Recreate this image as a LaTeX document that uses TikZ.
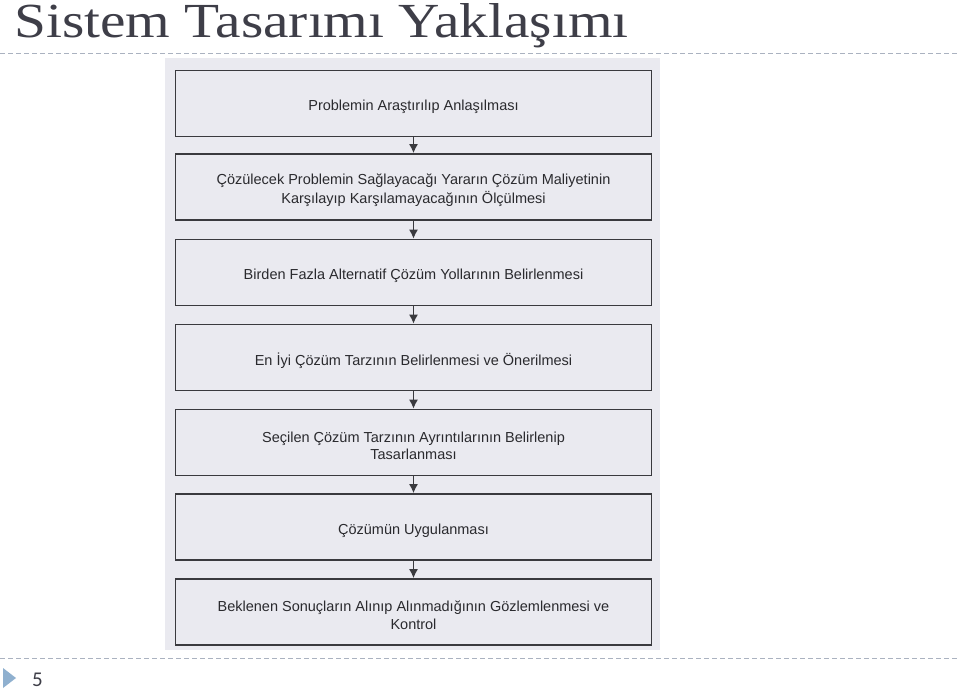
\documentclass[tikz,border=0pt]{standalone}
\usepackage{graphicx}
\usepackage{fontspec}
\setmainfont{Liberation Serif}
\newfontfamily\boxfont{Liberation Sans}
\newfontfamily\numfont{Carlito}
\usetikzlibrary{arrows.meta}
\definecolor{scanbg}{RGB}{234,234,240}
\definecolor{boxline}{RGB}{58,58,62}
\definecolor{boxtext}{RGB}{42,42,46}
\definecolor{titlecol}{RGB}{62,62,72}
\definecolor{dashcol}{RGB}{170,178,192}
\definecolor{markcol}{RGB}{143,176,207}
\newcommand{\lowertxt}[1]{\raisebox{-3.5pt}[\height][\depth]{#1}}
\tikzset{
  stepbox/.style={draw=boxline, line width=1.7pt, fill=scanbg, minimum width=476pt, minimum height=66pt,
    align=center, inner sep=0pt, font=\boxfont\fontsize{14.5}{19.5}\selectfont, text=boxtext},
  flowarrow/.style={draw=boxline, line width=1.4pt, -{Latex[length=9pt,width=9pt]}},
  sepline/.style={draw=dashcol, line width=1pt, dash pattern=on 5pt off 3pt}
}
\begin{document}
\begin{tikzpicture}[x=1pt,y=-1pt]
\useasboundingbox (0,0) rectangle (959,691);
\fill[white] (0,0) rectangle (959,691);
% title
\node[anchor=base west, inner sep=0pt, text=titlecol, font=\fontsize{49}{56}\selectfont] (title) at (14,37) {\scalebox{1.17}[1]{Sistem Tasarımı Yaklaşımı}};
% separators
\draw[sepline] (0,53) -- (959,53);
\draw[sepline] (0,658) -- (959,658);
% scanned background
\fill[scanbg] (165,58) rectangle (660,650);
% boxes
\node[stepbox] (b1) at (413.5,103.5) {\lowertxt{Problemin Araştırılıp Anlaşılması}};
\node[stepbox] (b2) at (413.5,187) {\lowertxt{\shortstack{Çözülecek Problemin Sağlayacağı Yararın Çözüm Maliyetinin\\[1pt]Karşılayıp Karşılamayacağının Ölçülmesi}}};
\node[stepbox] (b3) at (413.5,272.5) {\lowertxt{Birden Fazla Alternatif Çözüm Yollarının Belirlenmesi}};
\node[stepbox] (b4) at (413.5,357.5) {\lowertxt{En İyi Çözüm Tarzının Belirlenmesi ve Önerilmesi}};
\node[stepbox] (b5) at (413.5,442.5) {\lowertxt{\shortstack{Seçilen Çözüm Tarzının Ayrıntılarının Belirlenip\\[1pt]Tasarlanması}}};
\node[stepbox] (b6) at (413.5,527) {\lowertxt{Çözümün Uygulanması}};
\node[stepbox] (b7) at (413.5,612) {\lowertxt{\shortstack{Beklenen Sonuçların Alınıp Alınmadığının Gözlemlenmesi ve\\[1pt]Kontrol}}};
% arrows
\draw[flowarrow] (b1) -- (b2);
\draw[flowarrow] (b2) -- (b3);
\draw[flowarrow] (b3) -- (b4);
\draw[flowarrow] (b4) -- (b5);
\draw[flowarrow] (b5) -- (b6);
\draw[flowarrow] (b6) -- (b7);
% footer
\fill[markcol] (3,668) -- (16,678) -- (3,688) -- cycle;
\node[anchor=base west, inner sep=0pt, text=titlecol, font=\numfont\fontsize{21}{24}\selectfont] (pnum) at (32,686) {5};
\end{tikzpicture}
\end{document}
